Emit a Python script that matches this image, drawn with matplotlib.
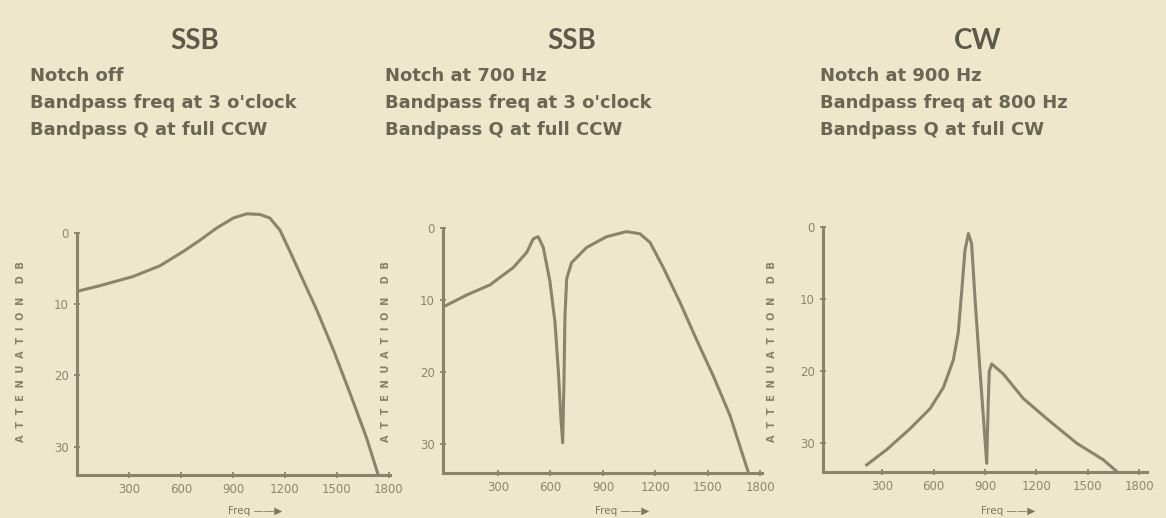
import matplotlib.pyplot as plt
import numpy as np

# panel headings
titles = ["SSB", "SSB", "CW"]
notes = [
    ["Notch off", "Bandpass freq at 3 o'clock", "Bandpass Q at full CCW"],
    ["Notch at 700 Hz", "Bandpass freq at 3 o'clock", "Bandpass Q at full CCW"],
    ["Notch at 900 Hz", "Bandpass freq at 800 Hz", "Bandpass Q at full CW"],
]
xticks = [300, 600, 900, 1200, 1500, 1800]
yticks = [0, 10, 20, 30]

# SSB, notch off  (freq Hz, attenuation dB)
f1 = [0, 133, 325, 479, 613, 710, 806, 902, 979, 1056, 1113, 1171, 1229, 1287, 1383, 1479, 1575, 1671, 1738]
a1 = [8.2, 7.4, 6.1, 4.6, 2.6, 1.0, -0.7, -2.1, -2.7, -2.6, -2.1, -0.4, 2.6, 5.7, 10.8, 16.4, 22.5, 28.8, 34.0]

# SSB, notch at 700 Hz
f2 = [0, 121, 254, 387, 464, 502, 530, 559, 597, 626, 645, 660, 670, 677, 683, 693, 721, 807, 921,
      1035, 1111, 1169, 1245, 1340, 1435, 1530, 1626, 1740]
a2 = [10.8, 9.3, 7.9, 5.5, 3.4, 1.5, 1.2, 2.7, 7.4, 13.1, 19.8, 26.5, 29.8, 21.7, 12.2, 7.0, 4.8, 2.7, 1.2,
      0.5, 0.8, 2.0, 5.5, 10.3, 15.5, 20.5, 26.0, 34.6]

# CW, notch at 900 Hz
f3 = [211, 327, 463, 580, 657, 715, 744, 764, 783, 803, 822, 842, 871, 900, 910, 919, 925, 939, 1007,
      1123, 1260, 1434, 1589, 1706]
a3 = [33.0, 30.9, 28.0, 25.2, 22.3, 18.5, 14.7, 9.0, 3.3, 0.9, 2.3, 10.0, 20.0, 29.5, 32.8, 24.2, 20.0, 19.0, 20.4,
      23.8, 26.6, 30.0, 32.3, 34.7]

freqs = [f1, f2, f3]
atten = [a1, a2, a3]

bg = "#eee7cb"
ink = "#5e594a"
trace = "#8a846c"

fig = plt.figure(figsize=(11.66, 5.18), dpi=100, facecolor=bg)
W, H = 1166.0, 518.0

# pixel boxes: left, right, top(0 dB), bottom axis, xlim
boxes = [
    (77, 390, 233, 475, 0, 1806),
    (443, 762, 228, 473, -14, 1809),
    (823, 1147, 227, 472, -44, 1844),
]
title_x = [195, 572, 978]
note_x = [30, 385, 820]
ylab_x = [21, 386, 772]
xlab_x = [255, 622, 1008]

for i in range(3):
    l, r, t0, b, x0, x1 = boxes[i]
    ppd = (b - t0) / 34.0
    top = t0 - 3.2 * ppd
    ax = fig.add_axes([l / W, 1 - b / H, (r - l) / W, (b - top) / H])
    ax.set_facecolor("none")
    ax.plot(freqs[i], atten[i], color=trace, lw=2.2, solid_joinstyle="round")
    ax.set_xlim(x0, x1)
    ax.set_ylim(34, -3.2)
    for s in ["top", "right"]:
        ax.spines[s].set_visible(False)
    for s in ["left", "bottom"]:
        ax.spines[s].set_color(trace)
        ax.spines[s].set_linewidth(2.2)
    ax.spines["left"].set_bounds(34, 0)
    ax.set_xticks(xticks)
    ax.set_yticks(yticks)
    ax.tick_params(colors=trace, labelcolor="#8d8771", labelsize=8.5, length=4, width=1.3,
                   direction="inout", pad=4)

    fig.text(title_x[i] / W, 1 - 41 / H, titles[i], ha="center", va="center",
             fontsize=20, color=ink, family="Lato", fontweight="bold")
    for j, line in enumerate(notes[i]):
        fig.text(note_x[i] / W, 1 - (76 + 27 * j) / H, line, ha="left", va="center",
                 fontsize=13, color="#6b6654", family="DejaVu Sans", fontweight="bold")
    fig.text(ylab_x[i] / W, 1 - 352 / H, "A  T  T  E  N  U  A  T  I  O  N    D  B", rotation=90,
             ha="center", va="center", fontsize=7, color="#85806a", fontweight="bold")
    fig.text(xlab_x[i] / W, 1 - 511 / H, "Freq \u2014\u2014\u25b6", ha="center", va="center",
             fontsize=7.5, color="#7d7862")

fig.savefig("out.png", dpi=100, facecolor=bg)
